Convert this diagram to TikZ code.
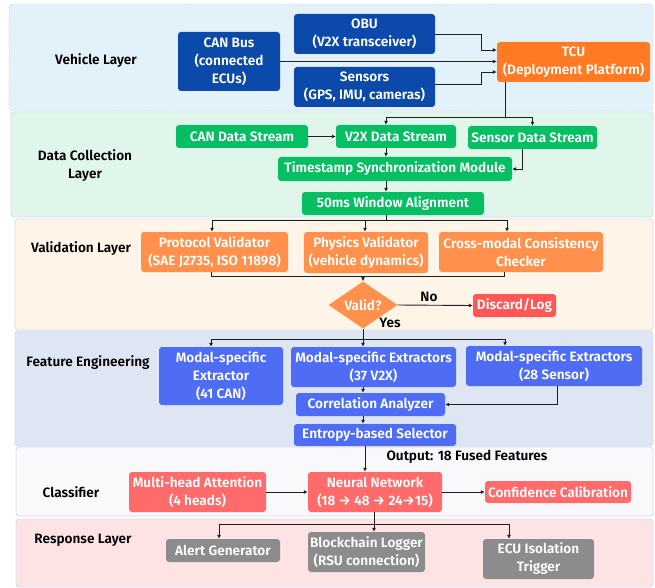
\documentclass[tikz,border=0pt]{standalone}
\usepackage{fontspec}
\setmainfont{Fira Sans}[UprightFont={* SemiBold},BoldFont={* Bold}]
\usetikzlibrary{arrows.meta,shapes.geometric}
\definecolor{bandline}{HTML}{D4DEEC}
\definecolor{vehfill}{HTML}{E3F1FA}
\definecolor{dcfill}{HTML}{E1F6EB}
\definecolor{valfill}{HTML}{FEF4E8}
\definecolor{fefill}{HTML}{DFE6F3}
\definecolor{clfill}{HTML}{F9F9FB}
\definecolor{refill}{HTML}{FEE3E5}
\definecolor{dblue}{HTML}{0B4AAA}
\definecolor{tcuor}{HTML}{FF7A22}
\definecolor{dgreen}{HTML}{06BF62}
\definecolor{vorange}{HTML}{FF914D}
\definecolor{dred}{HTML}{FF5757}
\definecolor{fblue}{HTML}{4E6DF4}
\definecolor{cred}{HTML}{FF6B6B}
\definecolor{rgray}{HTML}{8C8C8C}
\definecolor{lncol}{HTML}{1E1E1E}
\begin{document}
\begin{tikzpicture}[x=1pt,y=-1pt,
  band/.style={draw=bandline,line width=0.9pt,rounded corners=3pt},
  box/.style={rectangle,rounded corners=3pt,align=center,text=white,inner sep=0pt,
    font=\fontsize{13.6}{18}\selectfont},
  lbl/.style={align=center,text=black,inner sep=0pt,font=\fontsize{13.6}{17.5}\selectfont},
  ln/.style={draw=lncol,line width=0.9pt},
  arr/.style={ln,-{Latex[length=4pt,width=4pt]}}]
\useasboundingbox (0,0) rectangle (655,588);
% bands
\filldraw[band,fill=vehfill,densely dotted] (9,4) rectangle (653,111);
\filldraw[band,fill=dcfill] (11,112) rectangle (653,217);
\filldraw[band,fill=valfill] (15,219) rectangle (653,330);
\filldraw[band,fill=fefill] (15,331) rectangle (653,446);
\filldraw[band,fill=clfill] (16,447) rectangle (653,516);
\filldraw[band,fill=refill] (16,519) rectangle (653,587);
% layer labels
\node[lbl] (lveh) at (96,61) {Vehicle Layer};
\node[lbl] (ldc) at (85,165.5) {Data Collection\\Layer};
\node[lbl] (lval) at (81,249) {Validation Layer};
\node[lbl] (lfe) at (88,363) {Feature Engineering};
\node[lbl] (lcl) at (71,492) {Classifier};
\node[lbl] (lre) at (83,540) {Response Layer};
% vehicle layer
\node[box,fill=dblue,minimum width=102pt,minimum height=59pt] (can) at (229,61.5) {CAN Bus\\(connected\\ECUs)};
\node[box,fill=dblue,minimum width=141pt,minimum height=40pt] (obu) at (364.5,34) {OBU\\(V2X transceiver)};
\node[box,fill=dblue,minimum width=141pt,minimum height=40pt] (sens) at (364.5,87) {Sensors\\(GPS, IMU, cameras)};
\node[box,fill=tcuor,minimum width=153pt,minimum height=40pt] (tcu) at (573.5,62) {TCU\\(Deployment Platform)};
% data collection
\node[box,fill=dgreen,minimum width=132pt,minimum height=23pt] (cands) at (242,136.5) {CAN Data Stream};
\node[box,fill=dgreen,minimum width=120pt,minimum height=23pt] (v2xds) at (396,136.5) {V2X Data Stream};
\node[box,fill=dgreen,minimum width=129pt,minimum height=23pt] (sends) at (532.5,137.5) {Sensor Data Stream};
\node[box,fill=dgreen,minimum width=234pt,minimum height=24pt] (ts) at (395,169) {Timestamp Synchronization Module};
\node[box,fill=dgreen,minimum width=182pt,minimum height=23pt] (win) at (393,203.5) {50ms Window Alignment};
% validation
\node[box,fill=vorange,minimum width=147pt,minimum height=40pt] (proto) at (214.5,252) {Protocol Validator\\(SAE J2735, ISO 11898)};
\node[box,fill=vorange,minimum width=124pt,minimum height=41pt] (phys) at (366,252.5) {Physics Validator\\(vehicle dynamics)};
\node[box,fill=vorange,minimum width=164pt,minimum height=40pt] (cross) at (521,252) {Cross-modal Consistency\\Checker};
\node[box,diamond,rounded corners=0pt,aspect=1.5,fill=vorange,minimum width=69pt,minimum height=47pt] (valid) at (363,305) {Valid?};
\node[box,fill=dred,minimum width=83pt,minimum height=23pt] (discard) at (514.5,305.5) {Discard/Log};
\node[lbl] (nolbl) at (429,297) {No};
\node[lbl] (yeslbl) at (390,323) {Yes};
% feature engineering
\node[box,fill=fblue,minimum width=124pt,minimum height=58pt] (mcan) at (221,376) {Modal-specific\\Extractor\\(41 CAN)};
\node[box,fill=fblue,minimum width=165pt,minimum height=40pt] (mv2x) at (373.5,367) {Modal-specific Extractors\\(37 V2X)};
\node[box,fill=fblue,minimum width=176pt,minimum height=40pt] (msen) at (554,366) {Modal-specific Extractors\\(28 Sensor)};
\node[box,fill=fblue,minimum width=149pt,minimum height=23pt] (corr) at (370.5,404.5) {Correlation Analyzer};
\node[box,fill=fblue,minimum width=162pt,minimum height=22pt] (ent) at (375,435) {Entropy-based Selector};
% classifier
\node[lbl] (lout) at (467,457) {Output: 18 Fused Features};
\node[box,fill=cred,minimum width=137pt,minimum height=40pt] (mha) at (197.5,492) {Multi-head Attention\\(4 heads)};
\node[box,fill=cred,minimum width=134pt,minimum height=40pt] (nn) at (375,492) {Neural Network\\(18 → 48 → 24→15)};
\node[box,fill=cred,minimum width=146pt,minimum height=22pt] (conf) at (558,492) {Confidence Calibration};
% response
\node[box,fill=rgray,minimum width=114pt,minimum height=23pt] (alert) at (223,550.5) {Alert Generator};
\node[box,fill=rgray,minimum width=117pt,minimum height=40pt] (block) at (366.5,552) {Blockchain Logger\\(RSU connection)};
\node[box,fill=rgray,minimum width=111pt,minimum height=40pt] (ecu) at (538.5,559) {ECU Isolation\\Trigger};
% helper coordinates
\coordinate (j1) at (505,117);
\coordinate (spA) at (386,0);
\coordinate (sX) at (522,0);
\coordinate (j2) at (386,220);
\coordinate (vL) at (212,220);
\coordinate (vM) at (365,220);
\coordinate (vR) at (507,220);
\coordinate (mL) at (211,276);
\coordinate (mR) at (504,276);
\coordinate (fj) at (363,339);
\coordinate (fL) at (211,339);
\coordinate (fR) at (505,339);
\coordinate (msX) at (557,0);
\coordinate (cX) at (365,0);
\coordinate (rj) at (374,524);
\coordinate (rL) at (219,524);
\coordinate (rR) at (509,524);
% vehicle connectors
\draw[arr] (obu.east) -- ++(46,0) |- ([yshift=12pt]tcu.west);
\draw[arr] (can.east) -- (tcu.west |- can.east);
\draw[arr] ([yshift=3pt]sens.east) -- ++(46,0) |- ([yshift=-10pt]tcu.west);
% data collection connectors
\draw[ln] (tcu.south -| j1) -- (j1);
\draw[arr] (j1) -- (j1 -| sends) -- (sends.north);
\draw[arr] (j1) -- (j1 -| spA) -- (v2xds.north -| spA);
\draw[arr] (cands.east) -- (v2xds.west);
\draw[arr] (v2xds.south -| spA) -- (ts.north -| spA);
\draw[arr] (sends.south -| sX) |- (ts.east);
\draw[arr] (ts.south -| spA) -- (win.north -| spA);
% validation connectors
\draw[ln] (win.south -| spA) -- (j2);
\draw[ln] (vL) -- (vR);
\draw[arr] (vL) -- (proto.north -| vL);
\draw[arr] (vM) -- (phys.north -| vM);
\draw[arr] (vR) -- (cross.north -| vR);
\draw[ln] (proto.south -| mL) -- (mL) -- (mR) -- (cross.south -| mR);
\draw[arr] (mL -| valid) -- (valid.north);
\draw[arr] (valid.east) -- (discard.west);
% feature connectors
\draw[ln] (valid.south) -- (fj);
\draw[ln] (fL) -- (fR);
\draw[arr] (fL) -- (mcan.north -| fL);
\draw[arr] (fj) -- (mv2x.north -| fj);
\draw[arr] (fR) -- (msen.north -| fR);
\draw[arr] (mv2x.south -| fj) -- (corr.north -| fj);
\draw[arr] (msen.south -| msX) |- (corr.east);
\draw[arr] (corr.south -| fj) -- (ent.north -| fj);
% classifier connectors
\draw[arr] (ent.south -| cX) -- (nn.north -| cX);
\draw[arr] (mha.east) -- (nn.west);
\draw[arr] (nn.east) -- (conf.west);
% response connectors
\draw[ln] (nn.south -| rj) -- (rj);
\draw[ln] (rL) -- (rR);
\draw[arr] (rL) -- (alert.north -| rL);
\draw[arr] (rj) -- (block.north -| rj);
\draw[arr] (rR) -- (ecu.north -| rR);
\end{tikzpicture}
\end{document}
